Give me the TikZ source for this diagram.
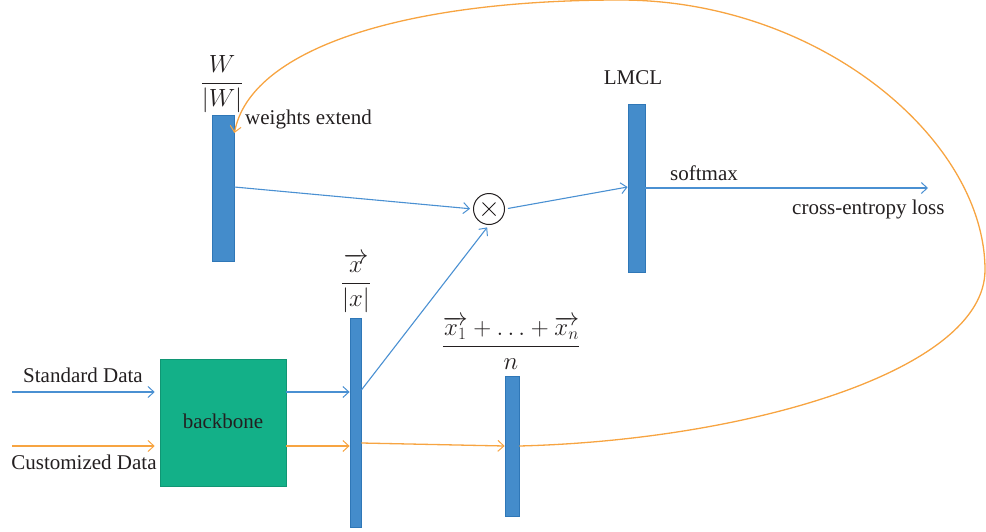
\documentclass[tikz,border=0pt]{standalone}
\usepackage{fontspec}
\setmainfont{Liberation Serif}
\usetikzlibrary{arrows.meta}
\definecolor{barblue}{HTML}{448CCB}
\definecolor{baredge}{HTML}{2F77B7}
\definecolor{lineblue}{HTML}{4A90D2}
\definecolor{lineorange}{HTML}{F7A441}
\definecolor{bbgreen}{HTML}{13B088}
\definecolor{txt}{HTML}{231F20}
\tikzset{
  bar/.style={draw=baredge, fill=barblue, line width=0.8pt, inner sep=0pt},
  lbl/.style={font=\fontsize{21}{25}\selectfont, text=txt, inner sep=0pt},
  mathlbl/.style={font=\fontsize{24}{28}\selectfont, text=txt, inner sep=0pt},
  tip/.style={-{Straight Barb[length=6pt,width=11pt,line width=1pt]}},
  bl/.style={draw=lineblue, line width=1.1pt, tip},
  ol/.style={draw=lineorange, line width=1.3pt, tip},
}
\begin{document}
\begin{tikzpicture}[x=1pt,y=-1pt]
\useasboundingbox (0,0) rectangle (986,531);
% bars
\node[bar, minimum width=22pt, minimum height=146pt] (wbar) at (223,188) {};
\node[bar, minimum width=17pt, minimum height=168pt] (lmcl) at (636.5,188) {};
\node[bar, minimum width=11pt, minimum height=209pt] (xbar) at (355.5,422.5) {};
\node[bar, minimum width=14pt, minimum height=140pt] (nbar) at (512,446) {};
\node[draw=bbgreen!85!black, fill=bbgreen, line width=0.6pt, minimum width=126pt, minimum height=127pt, inner sep=0pt] (bb) at (223,422.5) {};
\node[lbl] (bbt) at (223,421) {backbone};
% circle
\node[draw=txt, circle, line width=1pt, minimum size=31pt, inner sep=0pt] (ot) at (489,209) {};
\draw[txt, line width=1pt] (ot.center) ++(-6.5pt,-6.5pt) -- ++(13pt,13pt) (ot.center) ++(6.5pt,-6.5pt) -- ++(-13pt,13pt);
% labels
\node[mathlbl] (wl) at (222,84) {$\displaystyle\frac{W}{|W|}$};
\node[lbl, anchor=west] (we) at (245,119) {weights extend};
\node[lbl] (lm) at (633,78) {LMCL};
\node[lbl, anchor=west] (sm) at (670,173) {softmax};
\node[lbl, anchor=west] (ce) at (792,209) {cross-entropy loss};
\node[mathlbl] (xl) at (356,283) {$\displaystyle\frac{\overrightarrow{x}}{|x|}$};
\node[mathlbl] (nl) at (511,343) {$\displaystyle\frac{\overrightarrow{x_1}+\ldots+\overrightarrow{x_n}}{n}$};
\node[lbl] (sdl) at (83,375) {Standard Data};
\node[lbl] (cdl) at (84,462) {Customized Data};
% coordinates
\coordinate (r1) at (0,392);
\coordinate (r2) at (0,446);
\coordinate (sdin) at (12,392);
\coordinate (cdin) at (12,446);
\coordinate (ceout) at (928,188);
% connectors
\draw[bl, shorten >=5pt] (sdin) -- (bb.west |- r1);
\draw[ol, shorten >=5pt] (cdin) -- (bb.west |- r2);
\draw[bl] (bb.east |- r1) -- (xbar.west |- r1);
\draw[ol] (bb.east |- r2) -- (xbar.west |- r2);
\draw[ol] (xbar.east |- 0,443) -- (nbar.west |- r2);
\draw[bl, shorten >=3pt] (wbar.east |- 0,187) -- (ot.west);
\draw[bl, shorten <=3pt] (ot.east) -- (lmcl.west |- 0,187);
\draw[bl, shorten >=3pt] (xbar.east |- 0,390) -- (ot.south);
\draw[bl] (lmcl.east |- 0,188) -- (ceout);
\draw[ol] (nbar.east) .. controls (750,440) and (985,370) .. (985,270)
  .. controls (985,140) and (820,0) .. (620,0)
  .. controls (400,0) and (250,50) .. (wbar.north east |- 0,133);
\end{tikzpicture}
\end{document}
